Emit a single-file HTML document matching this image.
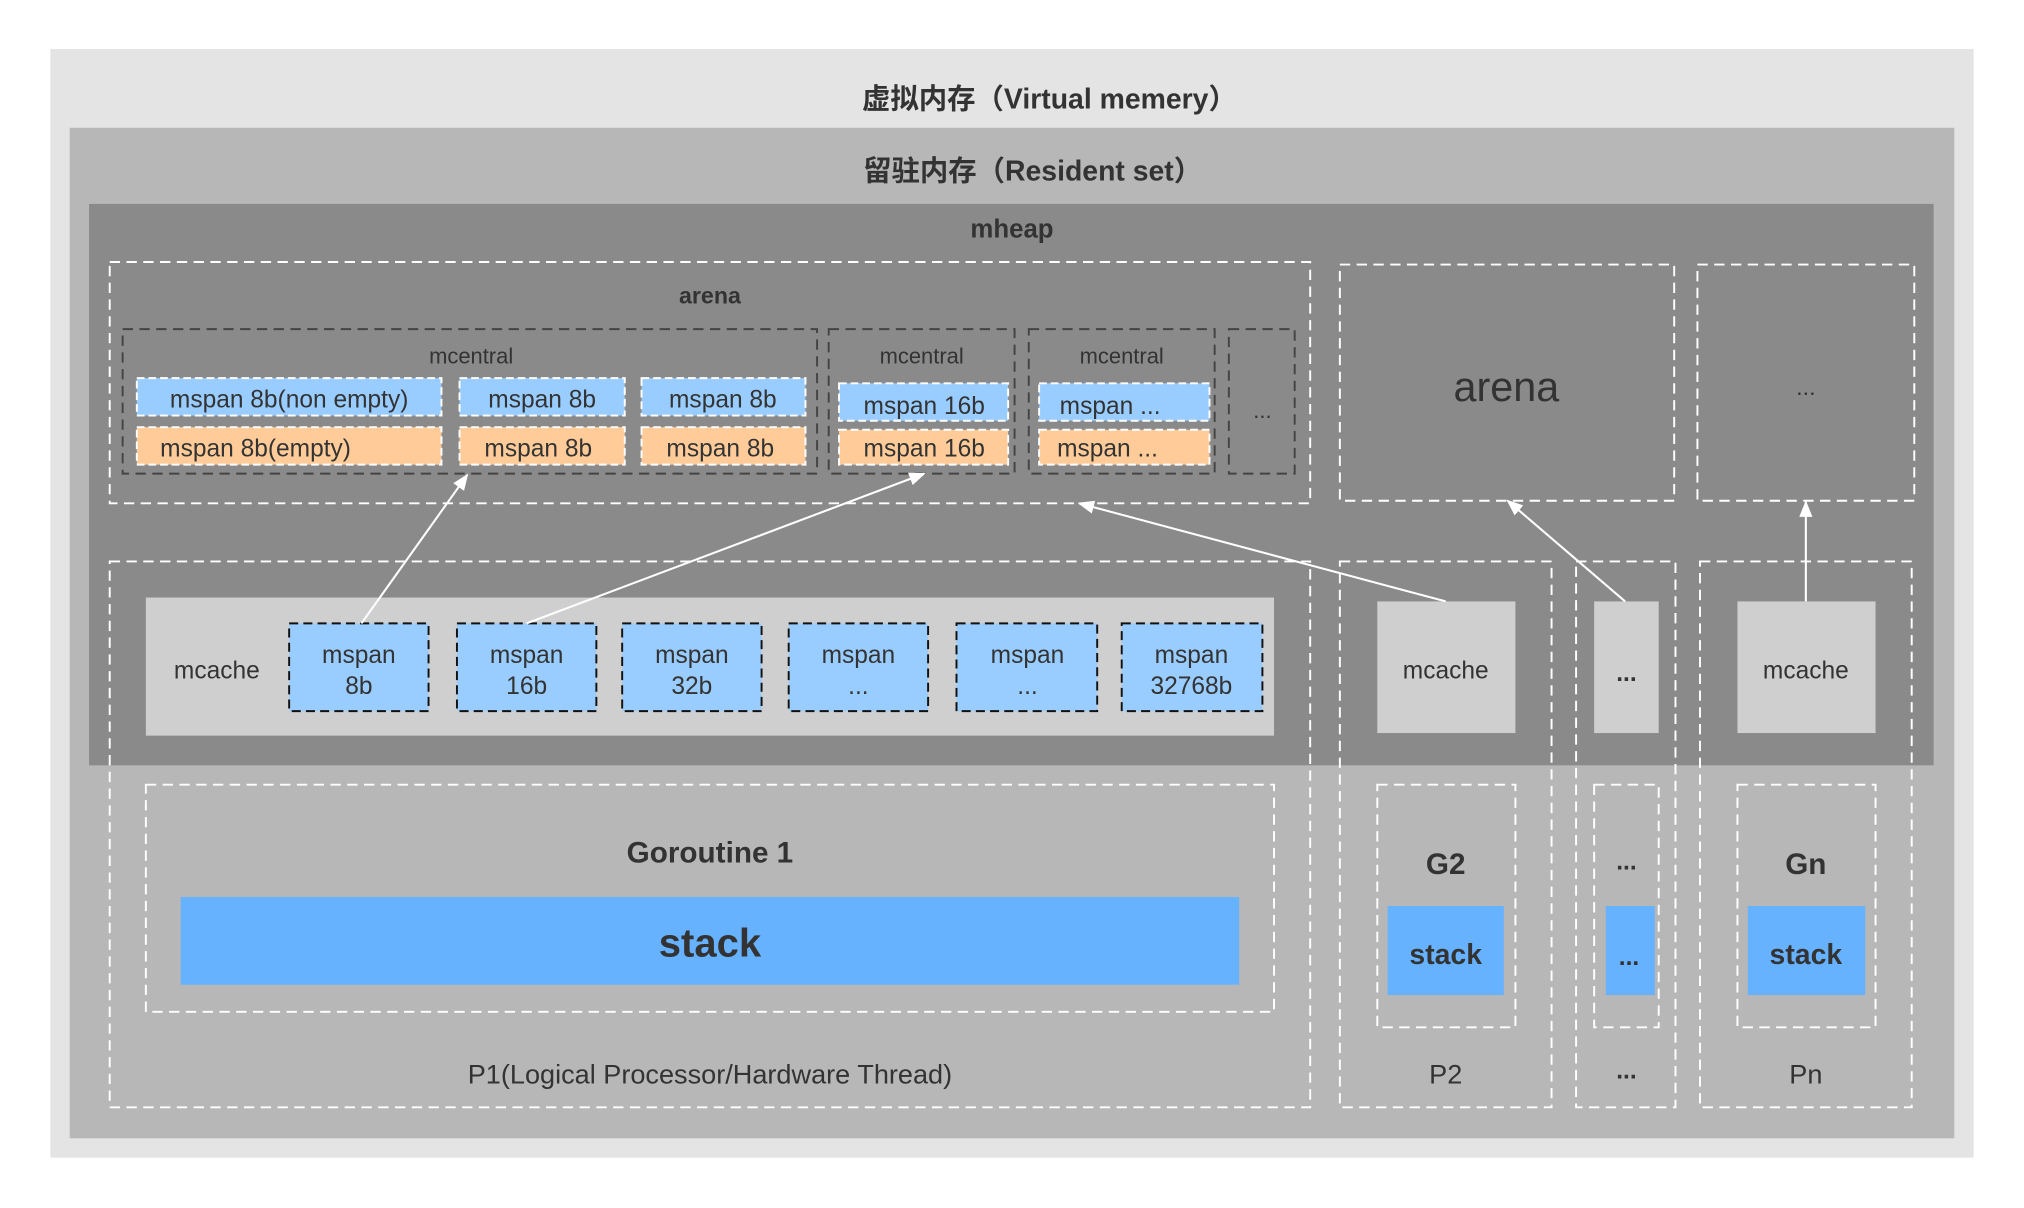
<!DOCTYPE html>
<html><head><meta charset="utf-8"><style>html,body{margin:0;padding:0;background:#fff}svg{display:block}text{font-family:"Liberation Sans","Noto Sans CJK SC",sans-serif;fill:#333;text-anchor:middle;dominant-baseline:central}</style></head>
<body>
<svg width="2024" height="1208" viewBox="0 0 1568 936" preserveAspectRatio="none" xmlns="http://www.w3.org/2000/svg">
<defs><marker id="ar" viewBox="0 0 10 10" refX="9" refY="5" markerWidth="8" markerHeight="8" orient="auto"><path d="M0,1 L10,5 L0,9 z" fill="#fff"/></marker></defs>
<rect x="39" y="38" width="1490" height="859" fill="#e4e4e4"/>
<text x="813" y="77" font-size="22" font-weight="bold">虚拟内存（Virtual memery）</text>
<rect x="54" y="99" width="1460" height="783" fill="#b7b7b7"/>
<text x="800" y="133" font-size="22" font-weight="bold">留驻内存（Resident set）</text>
<rect x="69" y="158" width="1429" height="435" fill="#8a8a8a"/>
<text x="784" y="178" font-size="20" font-weight="bold">mheap</text>
<g fill="none" stroke="#fff" stroke-width="1.5" stroke-dasharray="8,5">
<rect x="85" y="203" width="930" height="187"/>
<rect x="1038" y="205" width="259" height="183"/>
<rect x="1315" y="205" width="168" height="183"/>
<rect x="85" y="435" width="930" height="423"/>
<rect x="1038" y="435" width="164" height="423"/>
<rect x="1221" y="435" width="77" height="423"/>
<rect x="1317" y="435" width="164" height="423"/>
<rect x="113" y="608" width="874" height="176"/>
<rect x="1067" y="608" width="107" height="188"/>
<rect x="1235" y="608" width="50" height="188"/>
<rect x="1346" y="608" width="107" height="188"/>
</g>
<text x="550" y="229" font-size="18" font-weight="bold">arena</text>
<text x="1167" y="300" font-size="32">arena</text>
<text x="1399" y="300" font-size="18">...</text>
<g fill="none" stroke="#444" stroke-width="1.5" stroke-dasharray="8,5">
<rect x="95" y="255" width="538" height="112"/>
<rect x="642" y="255" width="144" height="112"/>
<rect x="797" y="255" width="144" height="112"/>
<rect x="952" y="255" width="51" height="112"/>
</g>
<g font-size="17"><text x="365" y="276">mcentral</text><text x="714" y="276">mcentral</text><text x="869" y="276">mcentral</text><text x="978" y="318">...</text></g>
<g stroke="#fff" stroke-width="1.5" stroke-dasharray="6,3">
<rect x="106" y="293" width="236" height="29" fill="#99ccff"/>
<rect x="356" y="293" width="128" height="29" fill="#99ccff"/>
<rect x="497" y="293" width="127" height="29" fill="#99ccff"/>
<rect x="650" y="297" width="131" height="29" fill="#99ccff"/>
<rect x="805" y="297" width="132" height="29" fill="#99ccff"/>
<rect x="106" y="331" width="236" height="29" fill="#ffcc99"/>
<rect x="356" y="331" width="128" height="29" fill="#ffcc99"/>
<rect x="497" y="331" width="127" height="29" fill="#ffcc99"/>
<rect x="650" y="333" width="131" height="27" fill="#ffcc99"/>
<rect x="805" y="333" width="132" height="27" fill="#ffcc99"/>
</g>
<g font-size="19">
<text x="224" y="310">mspan 8b(non empty)</text><text x="420" y="310">mspan 8b</text><text x="560" y="310">mspan 8b</text>
<text x="716" y="315">mspan 16b</text><text x="860" y="315">mspan ...</text>
<text x="198" y="348">mspan 8b(empty)</text><text x="417" y="348">mspan 8b</text><text x="558" y="348">mspan 8b</text>
<text x="716" y="348">mspan 16b</text><text x="858" y="348">mspan ...</text>
</g>
<rect x="113" y="463" width="874" height="107" fill="#cfcfcf"/>
<text x="168" y="520" font-size="19">mcache</text>
<g fill="#99ccff" stroke="#111" stroke-width="1.5" stroke-dasharray="7,4">
<rect x="224" y="483" width="108" height="68"/><rect x="354" y="483" width="108" height="68"/><rect x="482" y="483" width="108" height="68"/>
<rect x="611" y="483" width="108" height="68"/><rect x="741" y="483" width="109" height="68"/><rect x="869" y="483" width="109" height="68"/>
</g>
<g font-size="19">
<text x="278" y="508">mspan</text><text x="278" y="532">8b</text>
<text x="408" y="508">mspan</text><text x="408" y="532">16b</text>
<text x="536" y="508">mspan</text><text x="536" y="532">32b</text>
<text x="665" y="508">mspan</text><text x="665" y="532">...</text>
<text x="796" y="508">mspan</text><text x="796" y="532">...</text>
<text x="923" y="508">mspan</text><text x="923" y="532">32768b</text>
</g>
<rect x="1067" y="466" width="107" height="102" fill="#cfcfcf"/>
<rect x="1235" y="466" width="50" height="102" fill="#cfcfcf"/>
<rect x="1346" y="466" width="107" height="102" fill="#cfcfcf"/>
<text x="1120" y="520" font-size="19">mcache</text><text x="1260" y="522" font-size="19" font-weight="bold">...</text><text x="1399" y="520" font-size="19">mcache</text>
<text x="550" y="661" font-size="23" font-weight="bold">Goroutine 1</text>
<rect x="140" y="695" width="820" height="68" fill="#66b2ff"/>
<text x="550" y="731" font-size="31" font-weight="bold">stack</text>
<text x="550" y="832" font-size="21">P1(Logical Processor/Hardware Thread)</text>
<text x="1120" y="670" font-size="23" font-weight="bold">G2</text>
<rect x="1075" y="702" width="90" height="69" fill="#66b2ff"/><text x="1120" y="740" font-size="22" font-weight="bold">stack</text>
<text x="1120" y="832" font-size="21">P2</text>
<text x="1260" y="668" font-size="19" font-weight="bold">...</text>
<rect x="1244" y="702" width="38" height="69" fill="#66b2ff"/><text x="1262" y="742" font-size="19" font-weight="bold">...</text>
<text x="1260" y="830" font-size="19" font-weight="bold">...</text>
<text x="1399" y="670" font-size="23" font-weight="bold">Gn</text>
<rect x="1354" y="702" width="91" height="69" fill="#66b2ff"/><text x="1399" y="740" font-size="22" font-weight="bold">stack</text>
<text x="1399" y="832" font-size="21">Pn</text>
<g stroke="#fff" stroke-width="1.6" marker-end="url(#ar)">
<line x1="280" y1="483" x2="362" y2="368"/>
<line x1="408" y1="483" x2="716" y2="367"/>
<line x1="1120" y1="466" x2="836" y2="390"/>
<line x1="1259" y1="466" x2="1168" y2="388"/>
<line x1="1399" y1="466" x2="1399" y2="389"/>
</g>
</svg>
</body></html>
